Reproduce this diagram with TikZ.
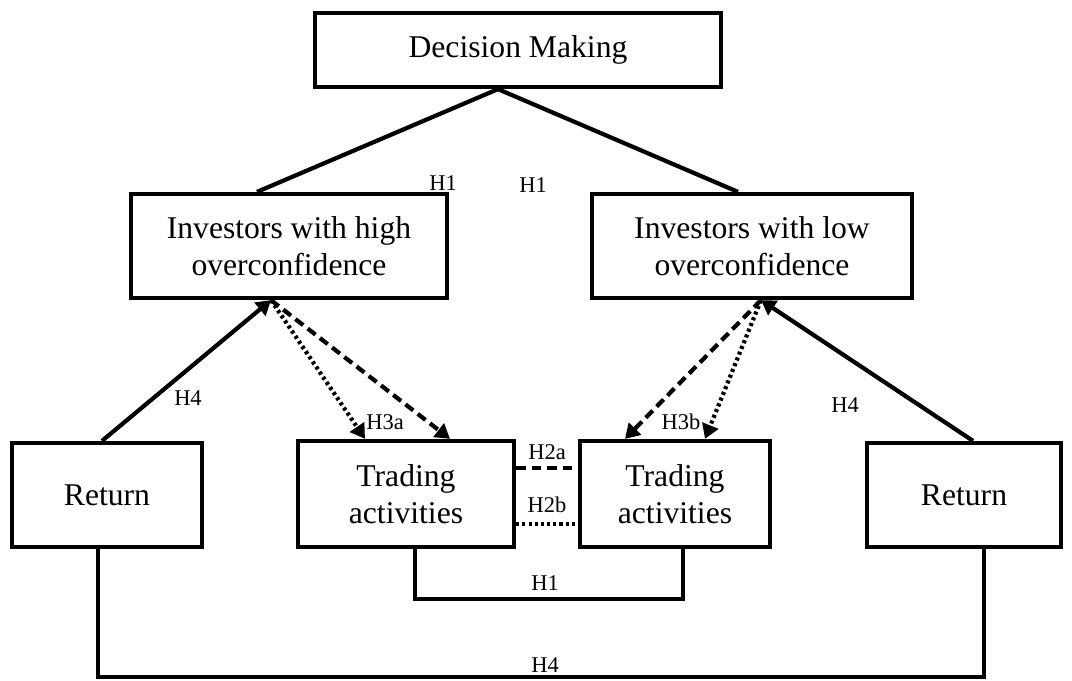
\documentclass[tikz,border=0pt]{standalone}
\usepackage{fontspec}
\setmainfont{Liberation Serif}
\usetikzlibrary{calc,arrows.meta}

\begin{document}
\begin{tikzpicture}[
			x=0.025cm,y=-0.025cm,
			box/.style={draw=black,line width=3pt,fill=white,align=center,inner sep=0pt,font=\fontsize{22.5}{26.5}\selectfont},
			link/.style={draw=black,line width=3pt},
			tip/.style={-{Triangle[length=3.6mm,width=4.2mm]}},
			solidarrow/.style={link,tip},
			dasharrow/.style={link,tip,dash pattern=on 7pt off 4pt},
			dotarrow/.style={link,tip,dash pattern=on 2.2pt off 2.2pt},
			hyp/.style={font=\fontsize{16}{18}\selectfont,inner sep=1pt}]
			\useasboundingbox (0,0) rectangle (1072,680);
			% boxes
			\node[box,minimum width=10.15cm,minimum height=1.85cm] (dm) at (518,50) {Decision Making};
			\node[box,minimum width=7.9cm,minimum height=2.6cm] (ih) at (289,246) {Investors with high\\overconfidence};
			\node[box,minimum width=8.0cm,minimum height=2.6cm] (il) at (752,246) {Investors with low\\overconfidence};
			\node[box,minimum width=4.75cm,minimum height=2.6cm] (rl) at (107,495) {Return};
			\node[box,minimum width=5.4cm,minimum height=2.65cm] (tl) at (406,494) {Trading\\activities};
			\node[box,minimum width=4.75cm,minimum height=2.65cm] (tr) at (675,494) {Trading\\activities};
			\node[box,minimum width=4.85cm,minimum height=2.6cm] (rr) at (964,495) {Return};
			% connection points
			\coordinate (dmfoot) at ($(dm.south)+(-20,0)$);
			\coordinate (ihtop) at ($(ih.north)+(-32,0)$);
			\coordinate (iltop) at ($(il.north)+(-14,0)$);
			\coordinate (ihfoot) at ($(ih.south)+(-18,0)$);
			\coordinate (ilfoot) at ($(il.south)+(9,0)$);
			% decision making
			\draw[link] (dmfoot) -- (ihtop);
			\draw[link] (dmfoot) -- (iltop);
			\node[hyp] (h1a) at (443,183) {H1};
			\node[hyp] (h1b) at (533,185) {H1};
			% returns
			\draw[solidarrow] ($(rl.north)+(-5,0)$) -- (ihfoot);
			\draw[solidarrow] ($(rr.north)+(9,0)$) -- (ilfoot);
			\node[hyp] (h4a) at (188,398) {H4};
			\node[hyp] (h4b) at (845,405) {H4};
			% trading activities
			\draw[dotarrow] (ihfoot) -- ($(tl.north)+(-41,0)$);
			\draw[dasharrow] (ihfoot) -- ($(tl.north)+(44,0)$);
			\node[hyp] (h3a) at (385,422) {H3a};
			\draw[dasharrow] (ilfoot) -- ($(tr.north)+(-50,0)$);
			\draw[dotarrow] (ilfoot) -- ($(tr.north)+(30,0)$);
			\node[hyp] (h3b) at (681,422) {H3b};
			\draw[link,dash pattern=on 7pt off 4pt] ([yshift=0.65cm]tl.east) -- ([yshift=0.65cm]tr.west);
			\node[hyp] (h2a) at (547,452) {H2a};
			\draw[link,dash pattern=on 2.2pt off 2.2pt] ([yshift=-0.75cm]tl.east) -- ([yshift=-0.75cm]tr.west);
			\node[hyp] (h2b) at (547,505) {H2b};
			% brackets
			\draw[link] ($(tl.south)+(9,0)$) -- ++(0,50) -| ($(tr.south)+(8,0)$);
			\node[hyp] (h1c) at (545,583) {H1};
			\draw[link] ($(rl.south)+(-9,0)$) -- ++(0,128) -| ($(rr.south)+(20,0)$);
			\node[hyp] (h4c) at (545,665) {H4};
		\end{tikzpicture}
\end{document}
